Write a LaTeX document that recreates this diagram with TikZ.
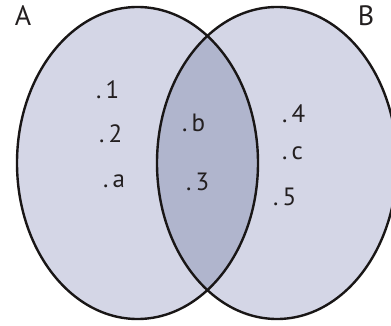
\documentclass[tikz,border=0pt]{standalone}
\usepackage{fontspec}
\setmainfont{PT Sans}
\definecolor{setfill}{RGB}{212,214,230}
\definecolor{lensfill}{RGB}{176,181,205}
\definecolor{edge}{RGB}{25,22,22}
\definecolor{ink}{RGB}{35,31,32}
\begin{document}
\begin{tikzpicture}[x=1pt,y=-1pt,
  elem/.style={anchor=base west,inner sep=0pt,font=\fontsize{25}{28}\selectfont,text=ink},
  setname/.style={anchor=base,inner sep=0pt,font=\fontsize{28}{32}\selectfont,text=ink},
  outline/.style={draw=edge,line width=2.4pt}]
\useasboundingbox (0,0) rectangle (391,326);
\clip (0,0) rectangle (391,326);
\fill[setfill] (137.5,163) ellipse [x radius=120.5, y radius=156];
\fill[setfill] (277,163) ellipse [x radius=120, y radius=156];
\begin{scope}
  \clip (137.5,163) ellipse [x radius=120.5, y radius=156];
  \fill[lensfill] (277,163) ellipse [x radius=120, y radius=156];
\end{scope}
\draw[outline] (137.5,163) ellipse [x radius=120.5, y radius=156];
\draw[outline] (277,163) ellipse [x radius=120, y radius=156];
\node[setname] (A) at (23,26) {A};
\node[setname] (B) at (366,26) {B};
\node[elem] (e1) at (96,99) {.\,1};
\node[elem] (e2) at (99,143) {.\,2};
\node[elem] (ea) at (103,187) {.\,a};
\node[elem] (eb) at (182,132) {.\,b};
\node[elem] (e3) at (186,190) {.\,3};
\node[elem] (e4) at (282,123) {.\,4};
\node[elem] (ec) at (282,160) {.\,c};
\node[elem] (e5) at (273,205) {.\,5};
\end{tikzpicture}
\end{document}
